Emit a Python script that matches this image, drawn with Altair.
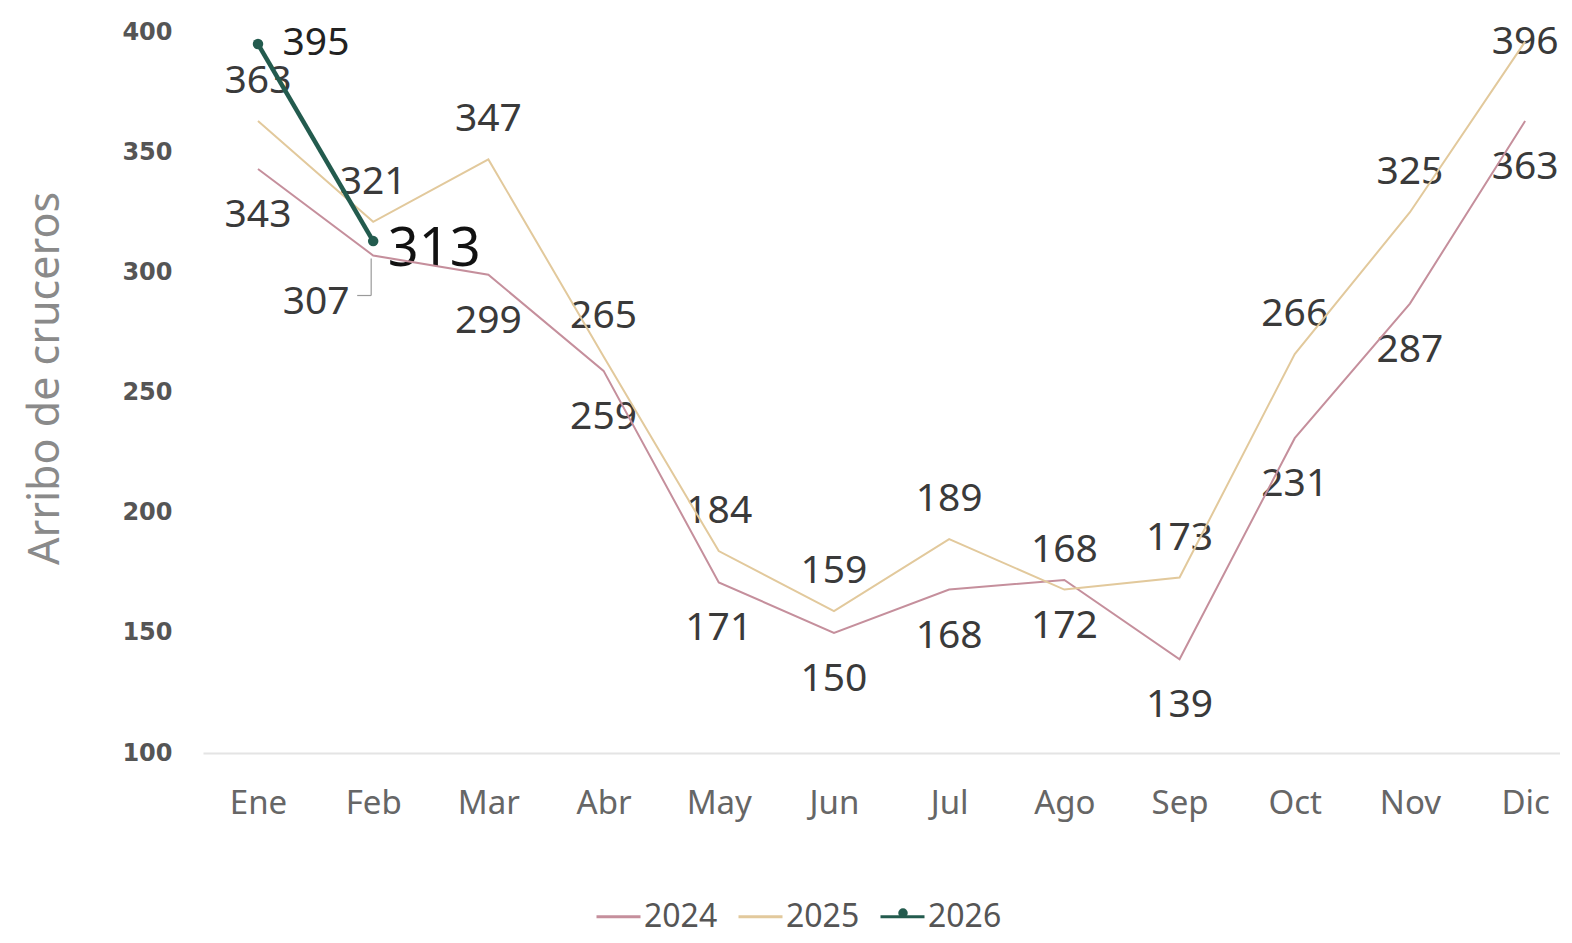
import altair as alt
import pandas as pd

months = ["Ene", "Feb", "Mar", "Abr", "May", "Jun", "Jul", "Ago", "Sep", "Oct", "Nov", "Dic"]
v2024 = [343, 307, 299, 259, 171, 150, 168, 172, 139, 231, 287, 363]
v2025 = [363, 321, 347, 265, 184, 159, 189, 168, 173, 266, 325, 396]
v2026 = [395, 313]
years = ["2024", "2025", "2026"]
colors = ["#c58f9c", "#e2c99c", "#235b4e"]
y_ticks = [100, 150, 200, 250, 300, 350, 400]

rows = []
for m, a, b in zip(months, v2024, v2025):
    rows.append({"month": m, "year": "2024", "value": a})
    rows.append({"month": m, "year": "2025", "value": b})
for m, c in zip(months, v2026):
    rows.append({"month": m, "year": "2026", "value": c})
df = pd.DataFrame(rows)

FONT = "Noto Sans"

x_enc = alt.X(
    "month:N", sort=months, title=None,
    scale=alt.Scale(type="point", padding=0.39, align=0.612),
    axis=alt.Axis(labelFontSize=33, labelColor="#666666", labelFont=FONT, labelPadding=34,
                  ticks=False, domain=True, domainColor="#e4e4e4", domainWidth=2,
                  grid=False, labelAngle=0),
)
y_enc = alt.Y(
    "value:Q",
    scale=alt.Scale(domain=[100, 400], nice=False, zero=False),
    axis=alt.Axis(values=y_ticks, grid=False, domain=False, ticks=False,
                  labelFontSize=24, labelFontWeight="bold", labelColor="#555555",
                  labelFont="DejaVu Sans", labelPadding=31,
                  title="Arribo de cruceros", titleFontSize=43, titleFontWeight="normal",
                  titleColor="#8a8a8a", titleFont=FONT, titleX=-158, titleY=346,
                  titleAngle=-90, titleAlign="center", titleBaseline="middle"),
)

base = alt.Chart(df)
color_scale = alt.Scale(domain=years, range=colors)

lines = base.transform_filter(alt.datum.year != "2026").mark_line(strokeWidth=2).encode(
    x=x_enc, y=y_enc,
    color=alt.Color("year:N", scale=color_scale,
                    legend=alt.Legend(title=None, orient="none", legendX=392, legendY=861,
                                      direction="horizontal", symbolType="stroke",
                                      symbolSize=1936, symbolStrokeWidth=3,
                                      labelFontSize=32, labelColor="#555555", labelFont=FONT,
                                      labelBaseline="middle",
                                      columnPadding=14, labelOffset=2)),
)
line26 = base.transform_filter(alt.datum.year == "2026").mark_line(strokeWidth=4.5).encode(
    x=x_enc, y=y_enc, color=alt.Color("year:N", scale=color_scale, legend=None),
)
pts26 = base.transform_filter(alt.datum.year == "2026").mark_point(
    filled=True, size=110, opacity=1, color="#235b4e").encode(x=x_enc, y=y_enc)

lab_kw = dict(fontSize=39, color="#3a3a3a", font=FONT)
lab24 = base.transform_filter(
    (alt.datum.year == "2024") & (alt.datum.month != "Feb")
).mark_text(dy=46, **lab_kw).encode(x=x_enc, y=y_enc, text="value:Q")
lab24feb = base.transform_filter(
    (alt.datum.year == "2024") & (alt.datum.month == "Feb")
).mark_text(dy=46, dx=-57, **lab_kw).encode(x=x_enc, y=y_enc, text="value:Q")
lead_v = base.transform_filter(
    (alt.datum.year == "2024") & (alt.datum.month == "Feb")
).mark_rule(color="#9a9a9a", strokeWidth=1.2, yOffset=3, y2Offset=40, xOffset=-2, x2Offset=-2).encode(
    x=x_enc, y=y_enc, y2="value:Q")
lead_h = base.transform_filter(
    (alt.datum.year == "2024") & (alt.datum.month == "Feb")
).mark_rule(color="#9a9a9a", strokeWidth=1.2, xOffset=-16, x2Offset=-2, yOffset=40, y2Offset=40).encode(
    x=x_enc, x2="month:N", y=y_enc)
lab25 = base.transform_filter(
    (alt.datum.year == "2025") & (alt.datum.month != "Dic")
).mark_text(dy=-40, **lab_kw).encode(x=x_enc, y=y_enc, text="value:Q")
lab25dic = base.transform_filter(
    (alt.datum.year == "2025") & (alt.datum.month == "Dic")
).mark_text(dy=0, **lab_kw).encode(x=x_enc, y=y_enc, text="value:Q")
lab26a = base.transform_filter(
    (alt.datum.year == "2026") & (alt.datum.month == "Ene")
).mark_text(dx=58, dy=-1, fontSize=39, color="#222222", font=FONT).encode(
    x=x_enc, y=y_enc, text="value:Q")
lab26b = base.transform_filter(
    (alt.datum.year == "2026") & (alt.datum.month == "Feb")
).mark_text(dx=61, dy=9, fontSize=54, color="#111111", font=FONT).encode(
    x=x_enc, y=y_enc, text="value:Q")

legend_dot = alt.Chart(pd.DataFrame({"k": [0]})).mark_point(
    filled=True, size=90, color="#235b4e", opacity=1).encode(
    x=alt.value(700), y=alt.value(881))

chart = alt.layer(
    lab24, lab24feb, lab25, lab25dic, lab26a, lab26b, lead_v, lead_h,
    lines, line26, pts26, legend_dot,
).properties(
    width=1357, height=721,
    padding={"left": 195, "top": 24, "right": 0, "bottom": 182},
    autosize=alt.AutoSizeParams(type="none"),
    background="white",
).configure_view(strokeWidth=0)

chart.save("out.html", embed_options={"renderer": "svg", "actions": False})
